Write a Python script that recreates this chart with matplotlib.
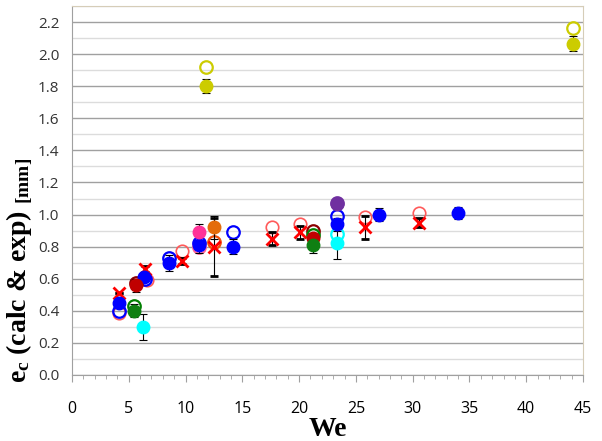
import numpy as np
import matplotlib
matplotlib.use('Agg')
import matplotlib.pyplot as plt
from matplotlib.ticker import MultipleLocator
from matplotlib import rc
rc('mathtext', default='regular')

# blue series (exp = filled, calc = open)
we_blue = [4.1, 6.3, 8.5, 11.2, 14.2, 23.3, 27.0, 34.0]
e_blue_exp = [0.45, 0.61, 0.70, 0.81, 0.80, 0.94, 1.00, 1.01]
err_blue = [0.02, 0.03, 0.05, 0.05, 0.045, 0.04, 0.04, 0.04]
we_blue_calc = [4.1, 6.4, 8.5, 11.2, 14.2, 23.3]
e_blue_calc = [0.40, 0.60, 0.73, 0.82, 0.89, 0.99]

# red series (X = exp, light open = calc)
we_red = [4.1, 6.4, 9.7, 12.5, 17.6, 20.1, 25.8, 30.6]
e_red_exp = [0.51, 0.66, 0.71, 0.80, 0.85, 0.89, 0.92, 0.95]
err_red = [0.0, 0.02, 0.02, 0.18, 0.04, 0.04, 0.07, 0.03]
we_red_calc = [4.1, 6.6, 9.7, 17.6, 20.1, 25.8, 30.6]
e_red_calc = [0.385, 0.59, 0.77, 0.92, 0.94, 0.985, 1.01]

# other single-fluid series: (We, exp, err, calc)
we_dred = [5.6, 21.2]
e_dred_exp = [0.56, 0.857]
err_dred = [0.04, 0.03]
e_dred_calc = [0.575, 0.898]

we_green = [5.5, 21.2]
e_green_exp = [0.40, 0.81]
err_green = [0.04, 0.05]
e_green_calc = [0.43, 0.87]

we_cyan = [6.25, 23.3]
e_cyan_exp = [0.30, 0.82]
err_cyan = [0.08, 0.10]
we_cyan_calc = [23.3]
e_cyan_calc = [0.878]

we_pink = [11.2]
e_pink_exp = [0.894]
err_pink = [0.05]
e_pink_calc = [0.795]

we_orange = [12.5]
e_orange_exp = [0.92]
err_orange = [0.07]
e_orange_calc = [0.83]

we_purple = [23.3]
e_purple_exp = [1.064]
err_purple = [0.0]
e_purple_calc = [1.07]

we_yellow = [11.8, 44.1]
e_yellow_exp = [1.80, 2.065]
err_yellow = [0.045, 0.045]
e_yellow_calc = [1.92, 2.16]

xticks = np.arange(0, 46, 5)
yticks = np.arange(0, 2.21, 0.2)

fig = plt.figure(figsize=(6.02, 4.41), dpi=100)
ax = fig.add_axes([72/602, 1-375/441, (583-72)/602, (375-6)/441])

ms = 9
ebk = dict(ecolor='k', elinewidth=0.8, capsize=3, capthick=0.8, ls='none')

def calc(x, y, c, lw=1.6):
    ax.plot(x, y, 'o', ms=ms, mfc='none', mec=c, mew=lw, zorder=3)

def exp(x, y, err, c):
    ax.errorbar(x, y, yerr=err, fmt='o', ms=ms, mfc=c, mec=c, zorder=4, **ebk)

calc(we_red_calc, e_red_calc, '#FF5A5A', 1.2)
ax.errorbar(we_red, e_red_exp, yerr=err_red, fmt='x', ms=9, mec='#FF0000', mew=2, zorder=4, **ebk)
calc(we_blue_calc, e_blue_calc, '#0000FF')
exp(we_blue, e_blue_exp, err_blue, '#0000FF')

calc(we_dred, e_dred_calc, '#8B0000')
exp(we_dred, e_dred_exp, err_dred, '#C00000')
calc(we_green, e_green_calc, '#008000')
exp(we_green, e_green_exp, err_green, '#0F7F12')
calc(we_cyan_calc, e_cyan_calc, '#00FFFF')
exp(we_cyan, e_cyan_exp, err_cyan, '#00FFFF')
calc(we_pink, e_pink_calc, '#FF6699')
exp(we_pink, e_pink_exp, err_pink, '#FF3399')
calc(we_orange, e_orange_calc, '#F0500A')
exp(we_orange, e_orange_exp, err_orange, '#E46C0A')
calc(we_purple, e_purple_calc, '#7030A0')
exp(we_purple, e_purple_exp, err_purple, '#7030A0')
calc(we_yellow, e_yellow_calc, '#CCCC00')
exp(we_yellow, e_yellow_exp, err_yellow, '#CCCC00')

ax.set_xticks(xticks)
ax.set_xticklabels([str(v) for v in xticks], family='Open Sans')
ax.xaxis.set_minor_locator(MultipleLocator(1))
ax.set_yticks(yticks)
ax.set_yticklabels(['%.1f' % v for v in yticks], family='Open Sans')
ax.yaxis.set_minor_locator(MultipleLocator(0.1))
ax.set_xlim(0, 45)
ax.set_ylim(0, 2.3)
ax.grid(which='major', axis='y', color='#A0A0A0', lw=1.0, zorder=0)
ax.grid(which='minor', axis='y', color='#DCDCDC', lw=1.0, zorder=0)
ax.set_axisbelow(True)

ax.tick_params(axis='y', which='both', length=0, labelsize=11, labelcolor='#333333', pad=9)
ax.tick_params(axis='x', which='major', direction='out', length=5, color='#A0A0A0',
               labelsize=11.5, labelcolor='#000000', pad=14)
ax.tick_params(axis='x', which='minor', direction='out', length=3, color='#A0A0A0')

ax.spines['left'].set_color('#A0A0A0')
ax.spines['bottom'].set_color('#A0A0A0')
ax.spines['top'].set_color('#D6CDB8')
ax.spines['right'].set_color('#D6CDB8')

ax.set_xlabel('We', family='Liberation Serif', weight='bold', fontsize=20, labelpad=0)
fig.text(20/602, 1-270/441, r'$e_c$ (calc & exp) $_{[mm]}$', rotation=90,
         family='Liberation Serif', weight='bold', fontsize=20, ha='center', va='center')

fig.savefig('out.png', dpi=100)
